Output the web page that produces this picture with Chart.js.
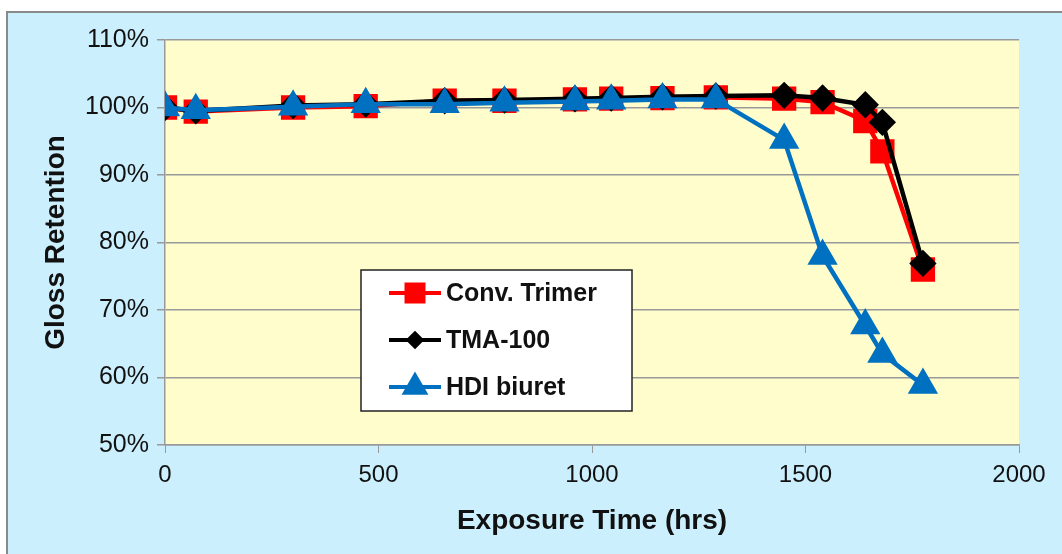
<!DOCTYPE html>
<html><head><meta charset="utf-8">
<script src="https://cdn.jsdelivr.net/npm/chart.js@4"></script>
<style>html,body{margin:0;padding:0;background:#fff}#wrap{width:1062px;height:554px}</style>
</head><body><div id="wrap"><canvas id="c" width="1062" height="554"></canvas></div>
<script>
const hours = [0, 72, 300, 470, 655, 795, 960, 1045, 1165, 1290, 1450, 1540, 1640, 1680, 1775];
const convTrimer = [100, 99.4, 100.0, 100.2, 101.0, 101.0, 101.2, 101.3, 101.4, 101.5, 101.3, 100.8, 98.0, 93.5, 76.0];
const tma100 = [100, 99.5, 100.3, 100.5, 101.0, 101.1, 101.3, 101.4, 101.6, 101.7, 101.8, 101.4, 100.4, 97.8, 76.9];
const hdiBiuret = [100, 99.6, 100.1, 100.5, 100.5, 100.7, 100.9, 101.0, 101.2, 101.2, 95.2, 78.0, 67.7, 63.5, 58.9];
const seriesNames = ['Conv. Trimer', 'TMA-100', 'HDI biuret'];
const yTicks = [50, 60, 70, 80, 90, 100, 110];
const xTicks = [0, 500, 1000, 1500, 2000];

const pts = (ys) => hours.map((h, i) => ({x: h, y: ys[i]}));

const bgPlugin = {
  id: 'bg',
  beforeDraw(chart) {
    const {ctx, chartArea: a} = chart;
    ctx.save();
    ctx.fillStyle = '#ffffff';
    ctx.fillRect(0, 0, chart.width, chart.height);
    ctx.fillStyle = '#CCEFFD';
    ctx.fillRect(7, 12, chart.width - 7, chart.height - 12);
    ctx.strokeStyle = '#8a8a8a';
    ctx.lineWidth = 2;
    ctx.strokeRect(7, 12, chart.width + 5, chart.height + 5);
    ctx.fillStyle = '#FFFDCC';
    ctx.fillRect(a.left, a.top, a.right - a.left, a.bottom - a.top);
    ctx.restore();
  }
};

const legendPlugin = {
  id: 'boxLegend',
  afterDatasetsDraw(chart) {
    const ctx = chart.ctx;
    ctx.save();
    ctx.fillStyle = '#ffffff';
    ctx.fillRect(361, 270, 271, 141);
    ctx.strokeStyle = '#222';
    ctx.lineWidth = 1.5;
    ctx.strokeRect(361, 270, 271, 141);
    const rows = [293, 340, 387];
    chart.data.datasets.forEach((ds, i) => {
      const y = rows[i];
      ctx.strokeStyle = ds.borderColor;
      ctx.lineWidth = 4;
      ctx.beginPath(); ctx.moveTo(389, y); ctx.lineTo(441, y); ctx.stroke();
      ctx.fillStyle = ds.pointBackgroundColor;
      ctx.strokeStyle = ds.pointBorderColor;
      Chart.helpers.drawPoint(ctx, {pointStyle: ds.pointStyle, radius: ds.legendRadius, borderWidth: 1}, 415, y);
      ctx.fillStyle = '#111';
      ctx.font = 'bold 25px "Liberation Sans", Arial, sans-serif';
      ctx.textBaseline = 'middle';
      ctx.textAlign = 'left';
      ctx.fillText(ds.label, 446, y + 1);
    });
    ctx.restore();
  }
};

new Chart(document.getElementById('c'), {
  type: 'scatter',
  data: {
    datasets: [
      {label: seriesNames[0], data: pts(convTrimer), showLine: true, order: 3, borderColor: '#FF0000', backgroundColor: '#FF0000',
       pointBackgroundColor: '#FF0000', pointBorderColor: '#FF0000', pointStyle: 'rect', pointRadius: 14, borderWidth: 4.5, legendRadius: 12},
      {label: seriesNames[1], data: pts(tma100), showLine: true, order: 2, borderColor: '#000000', backgroundColor: '#000000',
       pointBackgroundColor: '#000000', pointBorderColor: '#000000', pointStyle: 'rectRot', pointRadius: 10.5, borderWidth: 4.5, legendRadius: 6.5},
      {label: seriesNames[2], data: pts(hdiBiuret), showLine: true, order: 1, borderColor: '#0070C0', backgroundColor: '#0070C0',
       pointBackgroundColor: '#0070C0', pointBorderColor: '#0070C0', pointStyle: 'triangle', pointRadius: 13, borderWidth: 4.5, legendRadius: 11.5}
    ]
  },
  options: {
    responsive: false,
    animation: false,
    layout: {autoPadding: false, padding: {top: 40, right: 43, left: 0, bottom: 0}},
    plugins: {legend: {display: false}, tooltip: {enabled: false}},
    scales: {
      x: {
        type: 'linear', min: 0, max: 2000,
        afterBuildTicks(s) { s.ticks = xTicks.map(v => ({value: v})); },
        afterFit(s) { s.height = 109; },
        grid: {display: true, drawOnChartArea: false, drawTicks: true, tickLength: 8, color: '#999', lineWidth: 1},
        border: {display: true, color: '#999', width: 1.5},
        ticks: {color: '#111', font: {family: '"Liberation Sans", Arial', size: 24}, padding: 8, maxRotation: 0, callback: v => String(v)},
        title: {display: true, text: 'Exposure Time (hrs)', color: '#111', font: {family: '"Liberation Sans", Arial', size: 28, weight: 'bold'}, padding: {top: 0, bottom: 16}}
      },
      y: {
        min: 50, max: 110,
        afterBuildTicks(s) { s.ticks = yTicks.map(v => ({value: v})); },
        afterFit(s) { s.width = 165; },
        grid: {display: true, drawTicks: true, tickLength: 8, color: '#999', lineWidth: 1.5},
        border: {display: true, color: '#999', width: 1.5},
        ticks: {color: '#111', font: {family: '"Liberation Sans", Arial', size: 25}, padding: 8, callback: v => v + '%'},
        title: {display: true, text: 'Gloss Retention', color: '#111', font: {family: '"Liberation Sans", Arial', size: 28, weight: 'bold'}, padding: {top: 39, bottom: 0}}
      }
    }
  },
  plugins: [bgPlugin, legendPlugin]
});
</script>
</body></html>
